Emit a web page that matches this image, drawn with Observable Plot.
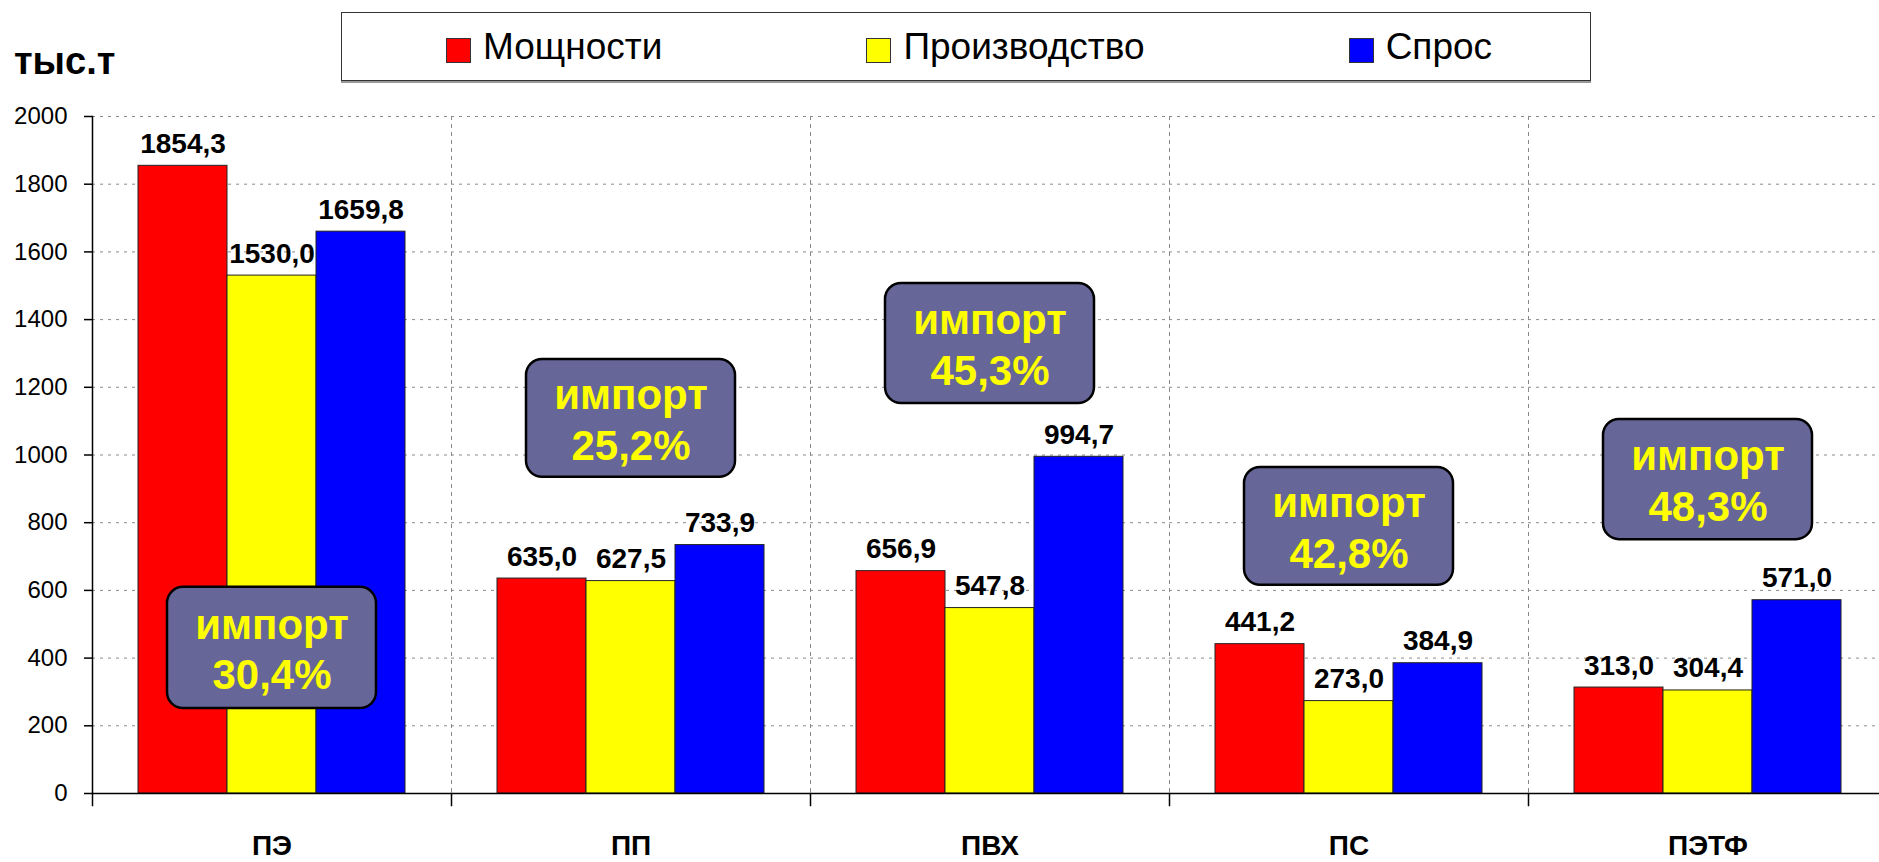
<!DOCTYPE html>
<html>
<head>
<meta charset="utf-8">
<script src="https://cdn.jsdelivr.net/npm/d3@7"></script>
<script src="https://cdn.jsdelivr.net/npm/@observablehq/plot@0.6"></script>
<style>
  html, body { margin: 0; padding: 0; background: #fff; }
  body { width: 1879px; height: 862px; overflow: hidden; font-family: Arial, "Liberation Sans", sans-serif; }
  #header { position: relative; width: 1879px; height: 100px; }
  #unit { position: absolute; left: 14px; top: 42px; font: bold 38px/1 Arial, "Liberation Sans", sans-serif; color: #000; }
  #legend { position: absolute; left: 341px; top: 12px; width: 1250px; height: 69px; box-sizing: border-box;
            border: 1.5px solid #333; box-shadow: 0 2px 0 #999; display: flex; align-items: center;
            padding-left: 104px; gap: 204px; }
  .item { display: flex; align-items: center; font-size: 37px; color: #000; line-height: 1; }
  .sw { width: 23px; height: 23px; border: 1px solid #333; margin-right: 12px; margin-top: 8px; }
  #chart { width: 1879px; overflow: hidden; }
</style>
</head>
<body>
<div id="header">
  <div id="unit">тыс.т</div>
  <div id="legend"></div>
</div>
<div id="chart"></div>
<script>
const categories = ["ПЭ", "ПП", "ПВХ", "ПС", "ПЭТФ"];
const series = ["Мощности", "Производство", "Спрос"];
const seriesColors = ["#ff0000", "#ffff00", "#0000ff"];
const capacity = [1854.3, 635.0, 656.9, 441.2, 313.0];
const production = [1530.0, 627.5, 547.8, 273.0, 304.4];
const demand = [1659.8, 733.9, 994.7, 384.9, 571.0];
const importShare = ["30,4%", "25,2%", "45,3%", "42,8%", "48,3%"];
const importBoxBottom = [251, 934, 1152, 615, 750];
const importBoxTop = [609, 1282, 1507, 963, 1105];
const yTicks = [0, 200, 400, 600, 800, 1000, 1200, 1400, 1600, 1800, 2000];

const seriesValues = [capacity, production, demand];
const rows = categories.flatMap((c, i) => series.map((s, j) => ({cat: c, series: s, value: seriesValues[j][i]})));
const importRows = categories.map((c, i) => ({cat: c, y1: importBoxBottom[i], y2: importBoxTop[i], pct: importShare[i]}));
const fmt = v => v.toFixed(1).replace(".", ",");

// legend
const legend = document.getElementById("legend");
series.forEach((s, j) => {
  const it = document.createElement("div");
  it.className = "item";
  const sw = document.createElement("span");
  sw.className = "sw";
  sw.style.background = seriesColors[j];
  const t = document.createElement("span");
  t.textContent = s;
  it.appendChild(sw); it.appendChild(t);
  legend.appendChild(it);
});

const H = 762;
const chart = Plot.plot({
  width: 1888,
  height: H,
  marginLeft: 91,
  marginRight: 0,
  marginTop: 16,
  marginBottom: 69,
  style: {fontFamily: "Arial, 'Liberation Sans', sans-serif", background: "#fff", color: "#000", maxWidth: "none"},
  fx: {domain: categories, padding: 0, label: null},
  x: {domain: series, paddingInner: 0, paddingOuter: 0.5, axis: null},
  y: {domain: [0, 2000], label: null},
  color: {domain: series, range: seriesColors},
  marks: [
    Plot.gridY(yTicks, {stroke: "#8a8a8a", strokeOpacity: 1, strokeDasharray: "3,5"}),
    Plot.frame({anchor: "left", stroke: "#8a8a8a", strokeDasharray: "3,5"}),
    Plot.barY(rows, {fx: "cat", x: "series", y: "value", fill: "series", stroke: "#222", strokeWidth: 1}),
    Plot.ruleY([0], {stroke: "#000", strokeWidth: 1.5}),
    Plot.frame({anchor: "left", stroke: "#000", strokeWidth: 1.5, insetTop: H - 16 - 69, insetBottom: -12}),
    Plot.frame({anchor: "left", stroke: "#000", strokeWidth: 1.5, facetAnchor: "left"}),
    Plot.axisY({ticks: yTicks, tickSize: 8, tickPadding: 17, fontSize: 24, tickFormat: "d", label: null, stroke: "#000", strokeWidth: 1.5}),
    Plot.text(rows, {fx: "cat", x: "series", y: "value", text: d => fmt(d.value), dy: -13, lineAnchor: "bottom",
                     fontSize: 28, fontWeight: "bold", fill: "#000"}),
    Plot.barY(importRows, {fx: "cat", x: () => series[1], y1: "y1", y2: "y2", fill: "#666699", stroke: "#000",
                           strokeWidth: 2.5, rx: 16, insetLeft: -60, insetRight: -60}),
    Plot.text(importRows, {fx: "cat", x: () => series[1], y: d => (d.y1 + d.y2) / 2, text: d => "импорт\n" + d.pct,
                           fill: "#ffff00", fontSize: 42, fontWeight: "bold", lineHeight: 1.2}),
    Plot.axisFx({anchor: "bottom", tickSize: 0, tickPadding: 42, fontSize: 28, fontWeight: "bold", label: null})
  ]
});
document.getElementById("chart").appendChild(chart);
</script>
</body>
</html>
